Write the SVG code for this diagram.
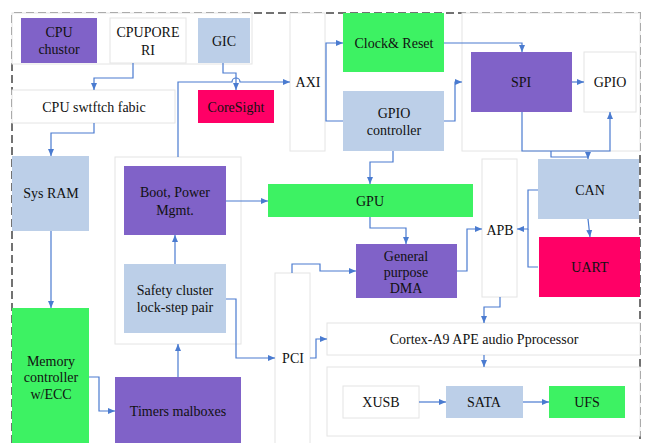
<svg xmlns="http://www.w3.org/2000/svg" width="645" height="443" viewBox="0 0 645 443">
<defs>
<marker id="a" markerWidth="7" markerHeight="7" refX="7" refY="3.5" orient="auto" markerUnits="userSpaceOnUse"><path d="M0,0.5 L7,3.5 L0,6.5 z" fill="#4a7bd0"/></marker>
<style>
text{font-family:'Liberation Serif','Times New Roman','DejaVu Serif',serif;font-size:14px;fill:#111;text-anchor:middle;dominant-baseline:central}
.w{fill:#fff;stroke:#e4e4e4;stroke-width:1}
.p{fill:#8062c8}
.b{fill:#bccfe8}
.g{fill:#3df263}
.r{fill:#ff0066}
.c path{fill:none;stroke:#4a7bd0;stroke-width:1.2}
.c path.m{marker-end:url(#a)}
</style>
</defs>
<rect width="645" height="443" fill="#fff"/>
<path d="M12,443 V13 H640 V443" fill="none" stroke="#444" stroke-width="1.5" stroke-dasharray="8,4"/>
<g id="containers">
<rect class="w" x="12" y="13" width="240" height="51"/>
<rect class="w" x="462" y="13" width="178" height="138"/>
<rect class="w" x="115" y="157" width="126" height="187"/>
<rect class="w" x="327" y="367" width="313" height="69"/>
</g>
<g font-family="Liberation Serif, serif">
<g id="cpu-chustor"><rect class="p" x="21" y="18" width="76" height="45"/><text x="59" y="32">CPU</text><text x="59" y="49">chustor</text></g>
<g id="cpupore"><rect class="w" x="110" y="18" width="76" height="45"/><text x="148" y="32">CPUPORE</text><text x="148" y="50">RI</text></g>
<g id="gic"><rect class="b" x="198" y="18" width="52" height="45"/><text x="224" y="41">GIC</text></g>
<g id="fabric"><rect class="w" x="12" y="90" width="163" height="33"/><text x="94" y="107">CPU swtftch fabic</text></g>
<g id="coresight"><rect class="r" x="198" y="90" width="76" height="33"/><text x="236" y="107">CoreSight</text></g>
<g id="axi"><rect class="w" x="290" y="13" width="35" height="138"/><text x="308" y="82">AXI</text></g>
<g id="clock"><rect class="g" x="343" y="13" width="101" height="59"/><text x="394" y="43">Clock&amp; Reset</text></g>
<g id="gpio-ctrl"><rect class="b" x="343" y="91" width="101" height="60"/><text x="394" y="113">GPIO</text><text x="394" y="130">controller</text></g>
<g id="spi"><rect class="p" x="471" y="52" width="101" height="60"/><text x="521" y="82">SPI</text></g>
<g id="gpio"><rect class="w" x="584" y="52" width="52" height="60"/><text x="610" y="82">GPIO</text></g>
<g id="sysram"><rect class="b" x="12" y="156" width="77" height="75"/><text x="51" y="193">Sys RAM</text></g>
<g id="boot"><rect class="p" x="124" y="166" width="102" height="69"/><text x="175" y="192">Boot, Power</text><text x="175" y="210">Mgmt.</text></g>
<g id="safety"><rect class="b" x="124" y="264" width="102" height="69"/><text x="175" y="290">Safety cluster</text><text x="175" y="307">lock-step pair</text></g>
<g id="gpu"><rect class="g" x="268" y="184" width="205" height="33"/><text x="370" y="201">GPU</text></g>
<g id="dma"><rect class="p" x="356" y="244" width="101" height="54"/><text x="406" y="256">General</text><text x="406" y="272">purpose</text><text x="406" y="288">DMA</text></g>
<g id="apb"><rect class="w" x="482" y="159" width="35" height="138"/><text x="500" y="230">APB</text></g>
<g id="can"><rect class="b" x="538" y="159" width="101" height="60"/><text x="590" y="190">CAN</text></g>
<g id="uart"><rect class="r" x="539" y="237" width="101" height="60"/><text x="590" y="267">UART</text></g>
<g id="pci"><rect class="w" x="275" y="273" width="35" height="175"/><text x="293" y="358">PCI</text></g>
<g id="cortex"><rect class="w" x="327" y="323" width="313" height="32"/><text x="484" y="339">Cortex-A9 APE audio Pprocessor</text></g>
<g id="xusb"><rect class="w" x="343" y="386" width="76" height="32"/><text x="381" y="402">XUSB</text></g>
<g id="sata"><rect class="b" x="446" y="386" width="77" height="32"/><text x="484" y="402">SATA</text></g>
<g id="ufs"><rect class="g" x="549" y="386" width="76" height="32"/><text x="587" y="402">UFS</text></g>
<g id="memory"><rect class="g" x="12" y="308" width="77" height="140"/><text x="51" y="361">Memory</text><text x="51" y="377">controller</text><text x="51" y="394">w/ECC</text></g>
<g id="timers"><rect class="p" x="115" y="377" width="126" height="70"/><text x="178" y="411">Timers malboxes</text></g>
</g>
<g id="connectors" class="c">
<path class="m" d="M133,63 V78 H94 V90"/>
<path class="m" d="M94,123 V133 H51 V156"/>
<path class="m" d="M223,63 V73 H236 V90"/>
<path class="m" d="M178,157 V82 H232 A4,4 0 0 1 240,82 H290"/>
<path class="m" d="M343,121 H326 V43 H343"/>
<path class="m" d="M444,43 H522 V52"/>
<path class="m" d="M444,121 H455 V82 H462"/>
<path class="m" d="M572,82 H584"/>
<path class="m" d="M522,112 V151 H610 V112"/>
<path class="m" d="M551,151 V157 H588 V159"/>
<path class="m" d="M393,151 V162 H370 V184"/>
<path class="m" d="M226,201 H268"/>
<path class="m" d="M370,217 V228 H406 V244"/>
<path class="m" d="M457,271 H467 V229 H482"/>
<path class="m" d="M538,190 H528 V229 H517"/>
<path d="M538,267 H528 V229"/>
<path class="m" d="M588,219 L590,237"/>
<path class="m" d="M500,297 V307 H484 V323"/>
<path class="m" d="M484,355 V367"/>
<path class="m" d="M419,402 H446"/>
<path class="m" d="M523,402 H549"/>
<path class="m" d="M292,273 V264 H320 V271 H356"/>
<path class="m" d="M226,299 H236 V358 H275"/>
<path class="m" d="M310,358 H316 V339 H327"/>
<path class="m" d="M51,231 V308"/>
<path class="m" d="M89,377 H99 V411 H115"/>
<path class="m" d="M178,377 V344"/>
<path class="m" d="M175,264 V235"/>
</g>
</svg>
